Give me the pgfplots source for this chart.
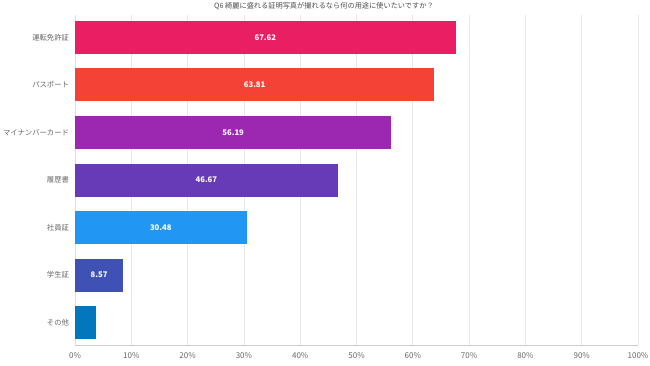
\documentclass[border=0pt]{standalone}
\usepackage{pgfplots}
\pgfplotsset{compat=1.18}
\usepackage{fontspec}
\setmainfont{Noto Sans CJK JP}
\definecolor{c1}{HTML}{E91E63}
\definecolor{c2}{HTML}{F44336}
\definecolor{c3}{HTML}{9C27B0}
\definecolor{c4}{HTML}{673AB7}
\definecolor{c5}{HTML}{2196F3}
\definecolor{c6}{HTML}{3F51B5}
\definecolor{c7}{HTML}{0277BD}
\definecolor{txt}{HTML}{666666}
\begin{document}
\begin{tikzpicture}
\useasboundingbox (0,0) rectangle (487.5pt,273.75pt);
\begin{axis}[
  at={(56.25pt,15pt)}, anchor=south west,
  scale only axis, width=422.25pt, height=247.5pt,
  xmin=0, xmax=100, ymin=-0.47, ymax=6.47, y dir=reverse,
  ytick={0,...,6},
  yticklabels={運転免許証,パスポート,マイナンバーカード,履歴書,社員証,学生証,その他},
  xtick={0,10,...,100},
  xticklabel={\pgfmathprintnumber{\tick}\%},
  /pgf/number format/assume math mode=true,
  xmajorgrids, grid style={draw=black!9, line width=0.5pt},
  major tick length=0pt,
  axis x line*=bottom, axis y line*=left,
  x axis line style={draw=black!20, -},
  y axis line style={draw=black!12, -},
  tick label style={font=\fontsize{6}{7}\selectfont, text=txt},
  yticklabel style={font=\fontsize{5.5}{7}\selectfont, text=txt, xshift=-1pt},
  xticklabel style={yshift=-2pt},
  clip=false,
]
\pgfplotsset{bstyle/.style={xbar, bar shift=0pt, bar width=24.75pt, draw=none}}
\addplot[bstyle, fill=c1] coordinates {(67.62,0)};
\addplot[bstyle, fill=c2] coordinates {(63.81,1)};
\addplot[bstyle, fill=c3] coordinates {(56.19,2)};
\addplot[bstyle, fill=c4] coordinates {(46.67,3)};
\addplot[bstyle, fill=c5] coordinates {(30.48,4)};
\addplot[bstyle, fill=c6] coordinates {(8.57,5)};
\addplot[bstyle, fill=c7] coordinates {(3.81,6)};
\addplot[draw=none, mark=none, nodes near coords, point meta=explicit symbolic,
  every node near coord/.style={anchor=center, text=white, font=\fontsize{5.8}{7}\selectfont\bfseries}]
  table[x expr=\thisrow{v}/2, y=y, meta=lab] {
v y lab
67.62 0 67.62
63.81 1 63.81
56.19 2 56.19
46.67 3 46.67
30.48 4 30.48
8.57 5 8.57
};
\end{axis}
\node[font=\fontsize{5.4}{7}\selectfont, text=black!70] at (243pt,269pt) {Q6 綺麗に盛れる証明写真が撮れるなら何の用途に使いたいですか？};
\end{tikzpicture}
\end{document}
